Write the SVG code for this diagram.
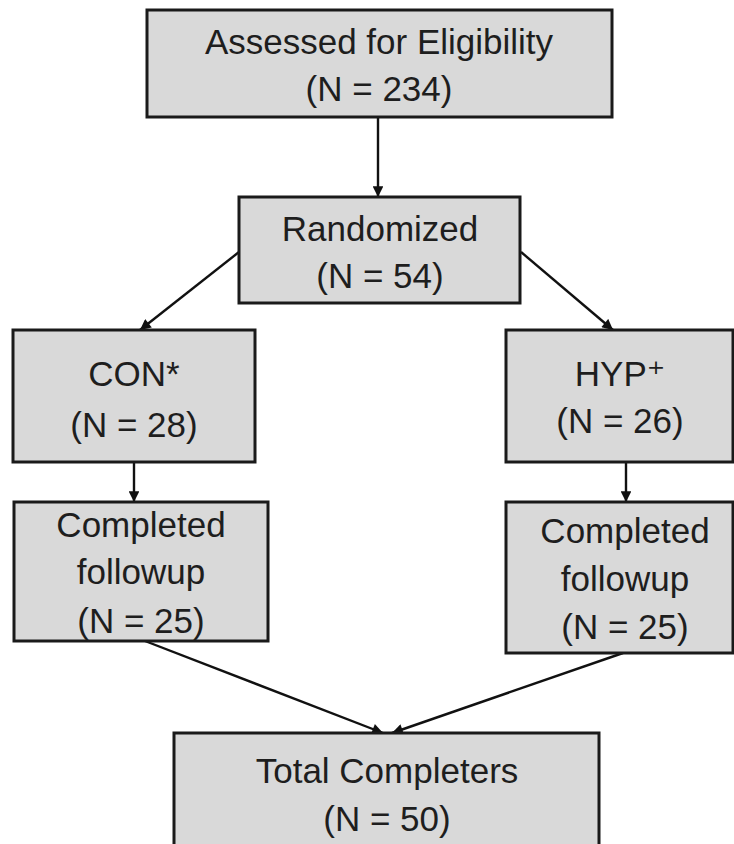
<svg xmlns="http://www.w3.org/2000/svg" width="734" height="844" viewBox="0 0 734 844">
<defs>
<style>
.box{fill:#d9d9d9;stroke:#1a1a1a;stroke-width:3}
.t{font-family:"Liberation Sans","DejaVu Sans",sans-serif;font-size:35px;fill:#1e1e1e;text-anchor:middle}
.c{stroke:#111;stroke-width:2.4;fill:none;marker-end:url(#ah)}
</style>
<marker id="ah" viewBox="0 0 10 10" refX="10" refY="5" markerWidth="5" markerHeight="4.5" orient="auto" markerUnits="strokeWidth">
<path d="M0,0 L10,5 L0,10 z" fill="#111"/>
</marker>
</defs>
<rect width="734" height="844" fill="#ffffff"/>
<g id="connectors">
<line class="c" x1="378" y1="117" x2="378" y2="197"/>
<line class="c" x1="239" y1="252" x2="140" y2="330"/>
<line class="c" x1="521" y1="252" x2="613" y2="330"/>
<line class="c" x1="134" y1="462" x2="134" y2="502"/>
<line class="c" x1="626" y1="462" x2="626" y2="502"/>
<line class="c" x1="145" y1="641" x2="383" y2="733"/>
<line class="c" x1="623" y1="653" x2="392" y2="733"/>
</g>
<g id="assessed">
<rect class="box" x="147" y="10" width="465" height="107"/>
<text class="t" x="379" y="54">Assessed for Eligibility</text>
<text class="t" x="379" y="101">(N = 234)</text>
</g>
<g id="randomized">
<rect class="box" x="239" y="197" width="281" height="106"/>
<text class="t" x="380" y="241">Randomized</text>
<text class="t" x="380" y="288">(N = 54)</text>
</g>
<g id="con">
<rect class="box" x="13" y="330" width="242" height="132"/>
<text class="t" x="134" y="386">CON*</text>
<text class="t" x="134" y="437">(N = 28)</text>
</g>
<g id="hyp">
<rect class="box" x="506" y="330" width="227" height="132"/>
<text class="t" x="620" y="386">HYP⁺</text>
<text class="t" x="620" y="433">(N = 26)</text>
</g>
<g id="con-completed">
<rect class="box" x="14" y="502" width="254" height="139"/>
<text class="t" x="141" y="537">Completed</text>
<text class="t" x="141" y="584">followup</text>
<text class="t" x="141" y="633">(N = 25)</text>
</g>
<g id="hyp-completed">
<rect class="box" x="506" y="502" width="227" height="151"/>
<text class="t" x="625" y="543">Completed</text>
<text class="t" x="625" y="591">followup</text>
<text class="t" x="625" y="639">(N = 25)</text>
</g>
<g id="total">
<rect class="box" x="174" y="733" width="425" height="130"/>
<text class="t" x="387" y="783">Total Completers</text>
<text class="t" x="387" y="831">(N = 50)</text>
</g>
</svg>
